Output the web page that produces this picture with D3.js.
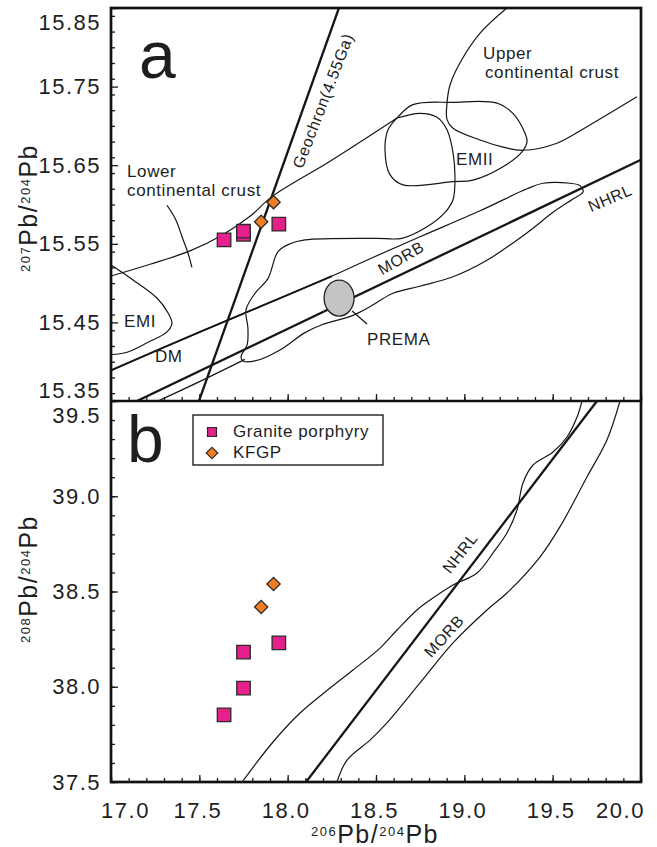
<!DOCTYPE html>
<html>
<head>
<meta charset="utf-8">
<script src="https://cdn.jsdelivr.net/npm/d3@7"></script>
<style>
  body { margin: 0; background: #fff; }
  text { font-family: "Liberation Sans", Arial, sans-serif; fill: #1e1e1e; }
</style>
</head>
<body>
<div id="chart"></div>
<script>
var svgWidth = 657;
var svgHeight = 847;

// plot frame (two stacked panels sharing the x axis)
var frame = { left: 111, right: 641, top: 8, mid: 401, bottom: 782 };

// ---- samples ----
var granite206 = [17.64, 17.75, 17.75, 17.95];
var granite207 = [15.555, 15.562, 15.566, 15.575];
var granite208 = [37.852, 37.993, 38.182, 38.23];
var kfgp206 = [17.85, 17.92];
var kfgp207 = [15.578, 15.603];
var kfgp208 = [38.419, 38.539];

// ---- tick labels ----
var xTickValues = [17.0, 17.5, 18.0, 18.5, 19.0, 19.5, 20.0];
var xTickLabels = ["17.0", "17.5", "18.0", "18.5", "19.0", "19.5", "20.0"];
var yATickValues = [15.35, 15.45, 15.55, 15.65, 15.75, 15.85];
var yATickLabels = ["15.35", "15.45", "15.55", "15.65", "15.75", "15.85"];
var yBTickValues = [37.5, 38.0, 38.5, 39.0, 39.5];
var yBTickLabels = ["37.5", "38.0", "38.5", "39.0", "39.5"];

// ---- reference lines and fields, panel a (206Pb/204Pb, 207Pb/204Pb) ----
var nhrlA = [[17.147, 15.35], [20.0, 15.657]];
var geochron = [[17.498, 15.35], [18.29, 15.85]];
var lowerCrustTop = [[17.0, 15.509], [17.221, 15.524], [17.447, 15.541], [17.628, 15.561],
  [17.787, 15.585], [17.911, 15.61], [18.24, 15.655], [18.619, 15.71]];
var lowerCrustEdge = [[17.317, 15.599], [17.368, 15.58], [17.402, 15.559], [17.436, 15.538], [17.458, 15.52]];
var emiField = [[17.0, 15.523], [17.125, 15.504], [17.26, 15.481], [17.323, 15.462], [17.345, 15.449],
  [17.317, 15.438], [17.204, 15.424], [17.091, 15.412], [17.0, 15.409]];
var emiiField = [[18.619, 15.71], [18.709, 15.727], [18.936, 15.73], [19.185, 15.729], [19.275, 15.716],
  [19.343, 15.691], [19.355, 15.68], [19.326, 15.667], [19.219, 15.648], [19.049, 15.631],
  [18.936, 15.629], [18.653, 15.625], [18.579, 15.638], [18.551, 15.669], [18.568, 15.695]];
var upperCrust = [[19.241, 15.85], [19.089, 15.818], [18.975, 15.78], [18.919, 15.752], [18.902, 15.729],
  [18.902, 15.708], [18.936, 15.697], [19.089, 15.682], [19.219, 15.673], [19.332, 15.669],
  [19.524, 15.678], [19.694, 15.699], [19.977, 15.737]];
var dmLine = [[17.0, 15.389], [17.504, 15.438], [17.843, 15.47], [18.251, 15.509]];
var morbFieldA = [[17.0, 15.389], [17.504, 15.438], [17.843, 15.47], [18.251, 15.509], [18.466, 15.531],
  [18.749, 15.559], [19.089, 15.592], [19.355, 15.62], [19.445, 15.627], [19.598, 15.627],
  [19.655, 15.624], [19.672, 15.616], [19.615, 15.607], [19.502, 15.59], [19.355, 15.564],
  [19.128, 15.529], [18.936, 15.508], [18.749, 15.496], [18.596, 15.487], [18.466, 15.47],
  [18.37, 15.459], [18.194, 15.447], [18.098, 15.437], [17.957, 15.415], [17.815, 15.401],
  [17.747, 15.401], [17.736, 15.407], [17.77, 15.421], [17.775, 15.443], [17.764, 15.466],
  [17.815, 15.487], [17.889, 15.506], [17.945, 15.54], [18.013, 15.55], [18.098, 15.555],
  [18.494, 15.557], [18.647, 15.557], [18.777, 15.57], [18.891, 15.59], [18.936, 15.606],
  [18.947, 15.635], [18.936, 15.666], [18.902, 15.695], [18.845, 15.711], [18.749, 15.716],
  [18.619, 15.71]];
var morbTailA = [[17.266, 15.35], [17.504, 15.375], [17.758, 15.403]];
var prema = [18.291, 15.481];

// ---- panel b (206Pb/204Pb, 208Pb/204Pb) ----
var nhrlB = [[18.104, 37.5], [19.751, 39.5]];
var morbUpperB = [[17.742, 37.5], [17.917, 37.71], [18.07, 37.862], [18.24, 37.993], [18.37, 38.088],
  [18.523, 38.203], [18.619, 38.298], [18.732, 38.403], [18.806, 38.455], [18.936, 38.534],
  [19.072, 38.597], [19.162, 38.702], [19.241, 38.807], [19.298, 38.928], [19.332, 39.07],
  [19.389, 39.164], [19.502, 39.232], [19.581, 39.311], [19.638, 39.416], [19.666, 39.5]];
var morbLowerB = [[18.279, 37.5], [18.336, 37.615], [18.466, 37.72], [18.562, 37.81], [18.749, 38.02],
  [18.936, 38.23], [19.128, 38.403], [19.241, 38.492], [19.428, 38.681], [19.541, 38.839],
  [19.694, 39.101], [19.807, 39.295], [19.881, 39.5]];

// ---- annotations (data coordinates) ----
var labelsA = [
  { text: "Lower", x: 17.091, y: 15.635 },
  { text: "continental crust", x: 17.091, y: 15.611 },
  { text: "Upper", x: 19.106, y: 15.785 },
  { text: "continental crust", x: 19.117, y: 15.761 },
  { text: "EMII", x: 18.953, y: 15.65 },
  { text: "EMI", x: 17.074, y: 15.444 },
  { text: "DM", x: 17.249, y: 15.4 },
  { text: "PREMA", x: 18.449, y: 15.421 }
];
var rotLabelsA = [
  { text: "Geochron(4.55Ga)", x: 18.2, y: 15.732, angle: -69 },
  { text: "MORB", x: 18.641, y: 15.532, angle: -30 },
  { text: "NHRL", x: 19.824, y: 15.608, angle: -23 }
];
var rotLabelsB = [
  { text: "NHRL", x: 18.975, y: 38.702, angle: -52 },
  { text: "MORB", x: 18.885, y: 38.266, angle: -48 }
];

var svg = d3.select("#chart")
  .append("svg")
  .attr("width", svgWidth)
  .attr("height", svgHeight);

var x = d3.scaleLinear().domain([17, 20]).range([frame.left, frame.right]);
var yA = d3.scaleLinear().domain([15.35, 15.85]).range([frame.mid, frame.top]);
var yB = d3.scaleLinear().domain([37.5, 39.5]).range([frame.bottom, frame.mid]);

var defs = svg.append("defs");
defs.append("clipPath").attr("id", "clipA").append("rect")
  .attr("x", frame.left).attr("y", frame.top)
  .attr("width", frame.right - frame.left).attr("height", frame.mid - frame.top);
defs.append("clipPath").attr("id", "clipB").append("rect")
  .attr("x", frame.left).attr("y", frame.mid)
  .attr("width", frame.right - frame.left).attr("height", frame.bottom - frame.mid);

var panelA = svg.append("g").attr("clip-path", "url(#clipA)");
var panelB = svg.append("g").attr("clip-path", "url(#clipB)");

function smooth(yScale) {
  return d3.line().x(d => x(d[0])).y(d => yScale(d[1])).curve(d3.curveCatmullRom.alpha(0.5));
}
function straight(yScale) {
  return d3.line().x(d => x(d[0])).y(d => yScale(d[1]));
}
function drawPath(g, data, gen, width) {
  g.append("path")
    .attr("d", gen(data))
    .attr("fill", "none")
    .attr("stroke", "#161616")
    .attr("stroke-width", width)
    .attr("stroke-linejoin", "round");
}

// panel a fields
drawPath(panelA, lowerCrustTop, smooth(yA), 1.2);
drawPath(panelA, lowerCrustEdge, smooth(yA), 1.2);
drawPath(panelA, emiField, smooth(yA), 1.2);
drawPath(panelA, emiiField, d3.line().x(d => x(d[0])).y(d => yA(d[1])).curve(d3.curveCatmullRomClosed.alpha(0.5)), 1.2);
drawPath(panelA, upperCrust, smooth(yA), 1.2);
drawPath(panelA, morbFieldA, smooth(yA), 1.2);
drawPath(panelA, morbTailA, smooth(yA), 1.2);
drawPath(panelA, dmLine, smooth(yA), 1.9);
drawPath(panelA, nhrlA, straight(yA), 2.3);
drawPath(panelA, geochron, straight(yA), 2.3);

// PREMA
panelA.append("line")
  .attr("x1", x(prema[0]) + 13).attr("y1", yA(prema[1]) + 13)
  .attr("x2", x(prema[0]) + 28).attr("y2", yA(prema[1]) + 26)
  .attr("stroke", "#161616").attr("stroke-width", 1.2);
panelA.append("ellipse")
  .attr("cx", x(prema[0])).attr("cy", yA(prema[1]))
  .attr("rx", 15).attr("ry", 18)
  .attr("fill", "#c4c4c4").attr("stroke", "#222").attr("stroke-width", 1.3);

// panel b fields
drawPath(panelB, morbUpperB, smooth(yB), 1.2);
drawPath(panelB, morbLowerB, smooth(yB), 1.2);
drawPath(panelB, nhrlB, straight(yB), 2.3);

// markers
var squareSym = d3.symbol().type(d3.symbolSquare).size(182);
var diamondSym = d3.symbol().type(d3.symbolSquare).size(88);
var pink = "#e5208b";
var orange = "#f07d20";

function drawSamples(g, yScale, xs, ys, sym, fill, rot) {
  g.selectAll(null)
    .data(xs)
    .enter()
    .append("path")
    .attr("d", sym)
    .attr("transform", (d, i) => `translate(${x(d)},${yScale(ys[i])}) rotate(${rot})`)
    .attr("fill", fill)
    .attr("stroke", "#2a2a2a")
    .attr("stroke-width", 1.3);
}
drawSamples(svg, yA, granite206, granite207, squareSym, pink, 0);
drawSamples(svg, yA, kfgp206, kfgp207, diamondSym, orange, 45);
drawSamples(svg, yB, granite206, granite208, squareSym, pink, 0);
drawSamples(svg, yB, kfgp206, kfgp208, diamondSym, orange, 45);

// labels
labelsA.forEach(function(l) {
  svg.append("text")
    .attr("x", x(l.x)).attr("y", yA(l.y))
    .attr("font-size", 17).attr("letter-spacing", "0.6px")
    .text(l.text);
});
function rotLabel(l, yScale) {
  svg.append("text")
    .attr("transform", `translate(${x(l.x)},${yScale(l.y)}) rotate(${l.angle})`)
    .attr("text-anchor", "middle")
    .attr("dy", "0.35em")
    .attr("font-size", 16).attr("letter-spacing", "0.6px")
    .text(l.text);
}
rotLabelsA.forEach(l => rotLabel(l, yA));
rotLabelsB.forEach(l => rotLabel(l, yB));

svg.append("text").attr("x", x(17.158)).attr("y", yA(15.761)).attr("font-size", 66).text("a");
svg.append("text").attr("x", x(17.091)).attr("y", yB(39.18)).attr("font-size", 66).text("b");

// legend
var legend = svg.append("g").attr("transform", "translate(193,415)");
legend.append("rect").attr("width", 190).attr("height", 50)
  .attr("fill", "#fff").attr("stroke", "#222").attr("stroke-width", 1.4);
legend.append("path").attr("d", d3.symbol().type(d3.symbolSquare).size(81))
  .attr("transform", "translate(19,17)").attr("fill", pink).attr("stroke", "#2a2a2a").attr("stroke-width", 1.2);
legend.append("path").attr("d", d3.symbol().type(d3.symbolSquare).size(66))
  .attr("transform", "translate(19,38) rotate(45)").attr("fill", orange).attr("stroke", "#2a2a2a").attr("stroke-width", 1.2);
legend.append("text").attr("x", 40).attr("y", 22).attr("font-size", 17).attr("letter-spacing", "0.6px").text("Granite porphyry");
legend.append("text").attr("x", 40).attr("y", 43).attr("font-size", 17).attr("letter-spacing", "0.6px").text("KFGP");

// ---- axes: inward ticks ----
function cleanAxis(g) {
  g.select(".domain").remove();
  g.selectAll("line").attr("stroke", "#1a1a1a").attr("stroke-width", 1.3);
}
var xMinor = x.ticks(30);
var yAMinor = yA.ticks(25);
var yBMinor = yB.ticks(20);

[frame.mid, frame.bottom].forEach(function(yPos) {
  svg.append("g").attr("transform", `translate(0,${yPos})`)
    .call(d3.axisBottom(x).tickValues(xMinor).tickSize(-4).tickFormat(""))
    .call(cleanAxis);
  svg.append("g").attr("transform", `translate(0,${yPos})`)
    .call(d3.axisBottom(x).tickValues(xTickValues).tickSize(-7).tickFormat(""))
    .call(cleanAxis);
});
svg.append("g").attr("transform", `translate(${frame.left},0)`)
  .call(d3.axisLeft(yA).tickValues(yAMinor).tickSize(-4).tickFormat(""))
  .call(cleanAxis);
svg.append("g").attr("transform", `translate(${frame.left},0)`)
  .call(d3.axisLeft(yA).tickValues(yATickValues).tickSize(-7).tickFormat(""))
  .call(cleanAxis);
svg.append("g").attr("transform", `translate(${frame.left},0)`)
  .call(d3.axisLeft(yB).tickValues(yBMinor).tickSize(-4).tickFormat(""))
  .call(cleanAxis);
svg.append("g").attr("transform", `translate(${frame.left},0)`)
  .call(d3.axisLeft(yB).tickValues(yBTickValues).tickSize(-7).tickFormat(""))
  .call(cleanAxis);

// ---- tick labels ----
function styleLabels(g) {
  g.select(".domain").remove();
  g.attr("font-size", 22).attr("font-family", "Liberation Sans, Arial, sans-serif");
  g.selectAll("text").attr("letter-spacing", "1.5px");
}
var xLabels = svg.append("g").attr("transform", `translate(0,${frame.bottom})`)
  .call(d3.axisBottom(x).tickValues(xTickValues).tickFormat((d, i) => xTickLabels[i]).tickSize(0).tickPadding(20))
  .call(styleLabels);
xLabels.selectAll("text").attr("dx", (d, i) => i === 0 ? 14 : (i === xTickValues.length - 1 ? -21 : -2));

var yALabels = svg.append("g").attr("transform", `translate(${frame.left},0)`)
  .call(d3.axisLeft(yA).tickValues(yATickValues).tickFormat((d, i) => yATickLabels[i]).tickSize(0).tickPadding(10))
  .call(styleLabels);
yALabels.selectAll("text").attr("y", (d, i) => i === 0 ? -11 : (i === yATickValues.length - 1 ? 14 : 0));

var yBLabels = svg.append("g").attr("transform", `translate(${frame.left},0)`)
  .call(d3.axisLeft(yB).tickValues(yBTickValues).tickFormat((d, i) => yBTickLabels[i]).tickSize(0).tickPadding(10))
  .call(styleLabels);
yBLabels.selectAll("text").attr("y", (d, i) => i === yBTickValues.length - 1 ? 14 : 0);

// ---- axis titles ----
function isotopeTitle(t, top, bottom) {
  t.attr("text-anchor", "middle").attr("letter-spacing", "1.5px");
  t.append("tspan").attr("font-size", 13).attr("dy", -7).text(top);
  t.append("tspan").attr("font-size", 25).attr("dy", 7).text("Pb/");
  t.append("tspan").attr("font-size", 13).attr("dy", -7).text(bottom);
  t.append("tspan").attr("font-size", 25).attr("dy", 7).text("Pb");
}
svg.append("text").attr("transform", "translate(375,843)").call(isotopeTitle, "206", "204");
svg.append("text").attr("transform", "translate(37,208) rotate(-90)").call(isotopeTitle, "207", "204");
svg.append("text").attr("transform", "translate(37,579) rotate(-90)").call(isotopeTitle, "208", "204");

// ---- frames ----
svg.append("rect")
  .attr("x", frame.left).attr("y", frame.top)
  .attr("width", frame.right - frame.left).attr("height", frame.bottom - frame.top)
  .attr("fill", "none").attr("stroke", "#111").attr("stroke-width", 2.7);
svg.append("line")
  .attr("x1", frame.left).attr("x2", frame.right)
  .attr("y1", frame.mid).attr("y2", frame.mid)
  .attr("stroke", "#111").attr("stroke-width", 2.7);
</script>
</body>
</html>
